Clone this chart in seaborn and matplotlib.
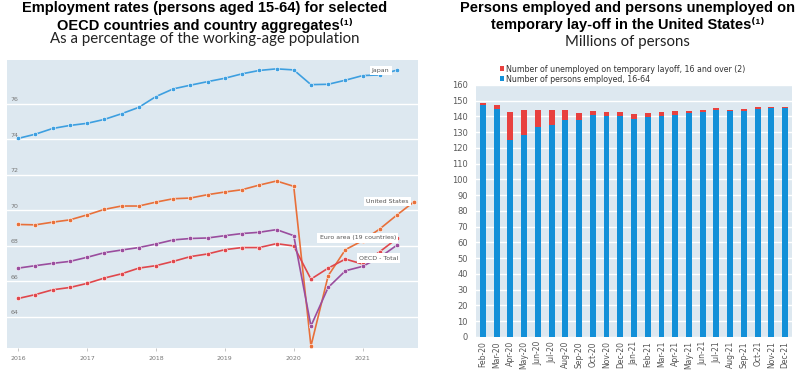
import matplotlib
matplotlib.use('Agg')
import matplotlib.pyplot as plt
import matplotlib.transforms as mtransforms
import seaborn as sns
import pandas as pd

# quarterly employment rates, Q1 2016 onwards
quarters = [2016 + 0.25 * i for i in range(24)]
japan = [74.06, 74.30, 74.62, 74.79, 74.91, 75.13, 75.45, 75.81, 76.42, 76.85, 77.06, 77.26,
         77.45, 77.70, 77.89, 77.98, 77.92, 77.09, 77.11, 77.34, 77.60, 77.64, 77.91]
united_states = [69.21, 69.19, 69.34, 69.47, 69.75, 70.06, 70.25, 70.25, 70.47, 70.66, 70.70, 70.89,
                 71.04, 71.17, 71.43, 71.66, 71.36, 62.36, 66.32, 67.79, 68.30, 68.96, 69.75, 70.50]
euro_area = [65.04, 65.26, 65.53, 65.66, 65.89, 66.19, 66.43, 66.75, 66.89, 67.13, 67.40, 67.55,
             67.79, 67.91, 67.91, 68.13, 68.00, 66.13, 66.75, 67.26, 66.98, 67.68, 68.42]
oecd_total = [66.75, 66.89, 67.02, 67.13, 67.36, 67.62, 67.77, 67.91, 68.11, 68.34, 68.42, 68.45,
              68.58, 68.70, 68.77, 68.92, 68.58, 63.49, 65.66, 66.60, 66.85, 67.36, 68.05]

# monthly US figures, millions
months = ['Feb-20', 'Mar-20', 'Apr-20', 'May-20', 'Jun-20', 'Jul-20', 'Aug-20', 'Sep-20',
          'Oct-20', 'Nov-20', 'Dec-20', 'Jan-21', 'Feb-21', 'Mar-21', 'Apr-21', 'May-21',
          'Jun-21', 'Jul-21', 'Aug-21', 'Sep-21', 'Oct-21', 'Nov-21', 'Dec-21']
employed = [147.5, 145.0, 124.9, 128.5, 133.6, 134.8, 138.0, 138.0, 140.8, 140.6, 140.1, 138.4,
            139.9, 140.6, 141.2, 142.2, 143.1, 144.4, 143.5, 143.5, 144.8, 145.6, 145.6]
layoff = [0.8, 2.5, 18.0, 15.6, 10.5, 9.3, 6.1, 4.2, 2.9, 2.5, 3.0, 3.4,
          2.6, 2.3, 2.5, 1.5, 1.3, 1.2, 0.9, 1.3, 1.5, 0.7, 0.7]

names = ['Japan', 'United States', 'Euro area (19 countries)', 'OECD - Total']
colors = ['#3d9fe0', '#e8703a', '#e0474c', '#9a4d9e']
BG = '#dde8f0'
TITLE_FONT = ['Liberation Sans', 'DejaVu Sans']

frames = []
for name, vals in zip(names, [japan, united_states, euro_area, oecd_total]):
    frames.append(pd.DataFrame({'quarter': quarters[:len(vals)], 'value': vals, 'series': name}))
df_rates = pd.concat(frames, ignore_index=True)

df_us = pd.DataFrame({'month': months, 'employed': employed,
                      'total': [e + l for e, l in zip(employed, layoff)]})

fig = plt.figure(figsize=(8, 3.76), dpi=100)

# ---- left chart ----
ax1 = fig.add_axes([0.009, 0.0745, 0.514, 0.766])
ax1.set_facecolor(BG)
sns.lineplot(data=df_rates, x='quarter', y='value', hue='series', hue_order=names,
             palette=colors, marker='o', markersize=3.2, markeredgecolor='white',
             markeredgewidth=0.4, linewidth=1.2, legend=False, ax=ax1)
ax1.set_xlim(2015.84, 2021.81)
ax1.set_ylim(62.25, 78.48)
ax1.set_yticks(range(64, 78, 2))
ax1.set_yticklabels([])
ax1.yaxis.grid(True, color='white', linewidth=1)
ax1.set_axisbelow(True)
ax1.tick_params(axis='y', length=0)
trans = mtransforms.blended_transform_factory(ax1.transAxes, ax1.transData)
for v in range(64, 78, 2):
    ax1.text(0.008, v + 0.1, str(v), transform=trans, fontsize=4.5, color='#777777',
             ha='left', va='bottom')
ax1.set_xticks(range(2016, 2022))
ax1.set_xticklabels([str(y) for y in range(2016, 2022)], fontsize=4.5, color='#777777')
ax1.tick_params(axis='x', length=2, width=0.6, color='#bbbbbb', pad=4)
ax1.set_xlabel('')
ax1.set_ylabel('')
for s in ax1.spines.values():
    s.set_visible(False)

box = dict(boxstyle='square,pad=0.35', facecolor='white', edgecolor='none')
ax1.text(2021.26, 77.88, 'Japan', fontsize=4.5, color='#555555', ha='center', va='center', bbox=box)
ax1.text(2021.36, 70.50, 'United States', fontsize=4.5, color='#555555', ha='center', va='center', bbox=box)
ax1.text(2020.93, 68.45, 'Euro area (19 countries)', fontsize=4.5, color='#555555', ha='center', va='center', bbox=box)
ax1.text(2021.23, 67.32, 'OECD - Total', fontsize=4.5, color='#555555', ha='center', va='center', bbox=box)

# ---- right chart ----
ax2 = fig.add_axes([0.595, 0.104, 0.395, 0.67])
ax2.set_facecolor(BG)
sns.barplot(data=df_us, x='month', y='total', color='#e8413f', saturation=1, width=0.43,
            label='Number of unemployed on temporary layoff, 16 and over (2)', ax=ax2)
sns.barplot(data=df_us, x='month', y='employed', color='#1390d8', saturation=1, width=0.43,
            label='Number of persons employed, 16-64', ax=ax2)
ax2.set_ylim(0, 160)
ax2.set_yticks(range(0, 161, 10))
ax2.yaxis.grid(True, color='white', linewidth=1)
ax2.set_axisbelow(True)
ax2.tick_params(axis='y', length=0, labelsize=6, labelcolor='#5a5a5a', pad=6)
ax2.tick_params(axis='x', length=0, labelsize=5.5, labelcolor='#555555', rotation=90, pad=3)
ax2.set_xlabel('')
ax2.set_ylabel('')
for s in ax2.spines.values():
    s.set_visible(False)
ax2.legend(loc='lower left', bbox_to_anchor=(0.075, 1.005), frameon=False, fontsize=5.7,
           handlelength=0.6, handleheight=0.6, handletextpad=0.2, labelspacing=0.15,
           borderaxespad=0, borderpad=0, labelcolor='#333333')

# ---- titles ----
fig.text(0.256, 0.979, 'Employment rates (persons aged 15-64) for selected', ha='center', va='center',
         fontsize=10.5, fontweight='bold', family=TITLE_FONT)
fig.text(0.256, 0.933, 'OECD countries and country aggregates\u207d\u00b9\u207e', ha='center', va='center',
         fontsize=10.5, fontweight='bold', family=TITLE_FONT)
fig.text(0.256, 0.895, 'As a percentage of the working-age population', ha='center', va='center',
         fontsize=10.8, family='Lato', color='#222222')

fig.text(0.784, 0.979, 'Persons employed and persons unemployed on', ha='center', va='center',
         fontsize=10.5, fontweight='bold', family=TITLE_FONT)
fig.text(0.784, 0.935, 'temporary lay-off in the United States\u207d\u00b9\u207e', ha='center', va='center',
         fontsize=10.5, fontweight='bold', family=TITLE_FONT)
fig.text(0.784, 0.887, 'Millions of persons', ha='center', va='center',
         fontsize=10.8, family='Lato', color='#222222')

fig.savefig('out.png', dpi=100)
